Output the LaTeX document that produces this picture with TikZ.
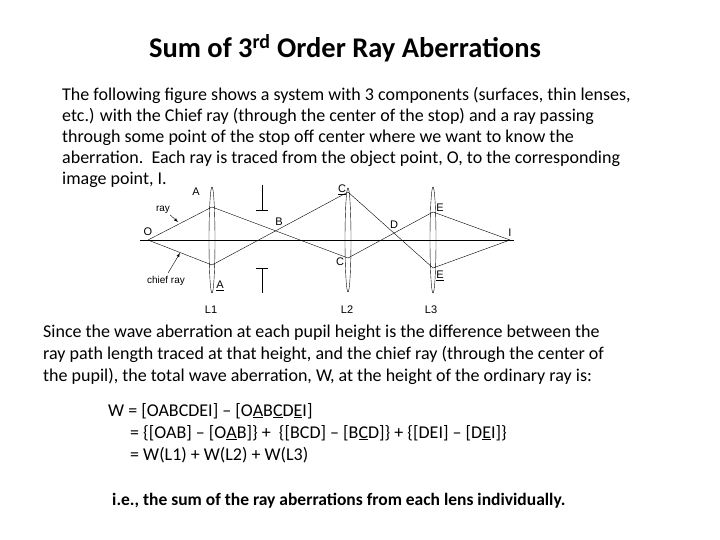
\documentclass[tikz,border=0pt]{standalone}
\usepackage{fontspec}
\setmainfont{Carlito}
\newfontfamily\arialf{Liberation Sans}
\begin{document}
\begin{tikzpicture}[x=1pt,y=-1pt,
  txt/.style={anchor=base west,inner sep=0pt,font=\fontsize{18}{18}\selectfont},
  lbl/.style={inner sep=0pt,font=\arialf\fontsize{11}{11}\selectfont},
  lens/.style={draw,thin},
  rayl/.style={draw,thin}]
\useasboundingbox (0,0) rectangle (720,540);
\node[anchor=base,inner sep=0pt,font=\fontsize{28.5}{28.5}\bfseries] (title) at (345,58) {Sum of 3\textsuperscript{rd} Order Ray Aberrations};
\node[txt] (p1) at (62,101) {The following figure shows a system with 3 components (surfaces, thin lenses,};
\node[txt] (p2) at (62,122) {etc.) with the Chief ray (through the center of the stop) and a ray passing};
\node[txt] (p3) at (62,143) {through some point of the stop off center where we want to know the};
\node[txt] (p4) at (62,164) {aberration.\ \ Each ray is traced from the object point, O, to the corresponding};
\node[txt] (p5) at (62,185) {image point, I.};
\node[txt] (q1) at (43,337) {Since the wave aberration at each pupil height is the difference between the};
\node[txt] (q2) at (43,359) {ray path length traced at that height, and the chief ray (through the center of};
\node[txt] (q3) at (43,381) {the pupil), the total wave aberration, W, at the height of the ordinary ray is:};
\node[txt] (e1) at (108,416) {W = [OABCDEI] -- [O\underline{A}B\underline{C}D\underline{E}I]};
\node[txt] (e2) at (130,438) {= \{[OAB] -- [O\underline{A}B]\}\ +\ \ \{[BCD] -- [B\underline{C}D]\} + \{[DEI] -- [D\underline{E}I]\}};
\node[txt] (e3) at (130,460) {= W(L1) + W(L2) + W(L3)};
\node[txt,font=\fontsize{17.5}{17.5}\bfseries] (e4) at (112,505) {i.e., the sum of the ray aberrations from each lens individually.};
% diagram
\coordinate (O) at (148,240); \coordinate (I) at (510,240);
\draw (140,240) -- (514,240);
\draw[lens] (212,240) ellipse (3 and 53);
\draw[lens] (348,240) ellipse (3 and 52);
\draw[lens] (433,240) ellipse (3 and 53);
\draw (262,185) -- (262,210) (256,210) -- (268,210);
\draw (262,268) -- (262,293) (256,268) -- (268,268);
\coordinate (A1) at (212,207); \coordinate (A2) at (212,265);
\coordinate (C1) at (348,192); \coordinate (C2) at (348,258);
\coordinate (E1) at (433,212); \coordinate (E2) at (433,268);
\draw[rayl] (O) -- (A1) -- (C2) -- (E1) -- (I);
\draw[rayl] (O) -- (A2) -- (C1) -- (E2) -- (I);
\node[lbl] (lO) at (148,232) {O};
\node[lbl] (lI) at (510,233) {I};
\node[lbl] (lA) at (196,192) {A};
\node[lbl] (lA2) at (220,286) {\underline{A}};
\node[lbl] (lB) at (279,222) {B};
\node[lbl] (lC1) at (342,190) {\underline{C}};
\node[lbl] (lC2) at (340,262) {C};
\node[lbl] (lD) at (394,225) {D};
\node[lbl] (lE1) at (440,208) {E};
\node[lbl] (lE2) at (440,276) {\underline{E}};
\node[lbl] (L1) at (211,310) {L1};
\node[lbl] (L2) at (347,310) {L2};
\node[lbl] (L3) at (431,310) {L3};
\node[lbl,font=\arialf\fontsize{10}{10}\selectfont] (ray) at (163,210) {ray};
\node[lbl,font=\arialf\fontsize{10}{10}\selectfont] (chief) at (166,281) {chief ray};
\coordinate (rt) at (178,222); \coordinate (ct) at (180,253);
\draw[-latex] (ray.south east) ++(0,1) -- (rt);
\draw[-latex] (chief.north) ++(2,-3) -- (ct);
\end{tikzpicture}
\end{document}
